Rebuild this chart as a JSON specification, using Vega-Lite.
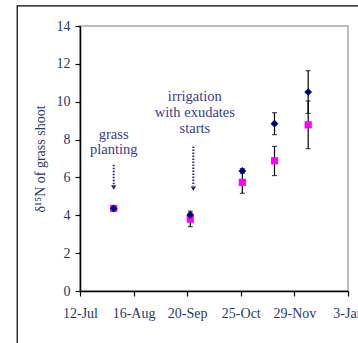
{
  "$schema": "https://vega.github.io/schema/vega-lite/v6.json",
  "width": 268,
  "height": 265,
  "autosize": {"type": "none"},
  "padding": {"left": 80, "top": 26, "right": 10, "bottom": 52},
  "background": "white",
  "config": {
    "view": {"stroke": "#A6A6A6", "strokeWidth": 1.5},
    "axis": {"labelOverlap": false, "grid": false},
    "font": "Liberation Serif"
  },
  "datasets": {
    "obs": [
      {"date": "2008-08-03", "group": "square", "mean": 4.36, "lo": 4.3, "hi": 4.42},
      {"date": "2008-09-22", "group": "square", "mean": 3.8, "lo": 3.4, "hi": 4.22},
      {"date": "2008-10-26", "group": "square", "mean": 5.74, "lo": 5.16, "hi": 6.32},
      {"date": "2008-11-16", "group": "square", "mean": 6.88, "lo": 6.1, "hi": 7.64},
      {"date": "2008-12-08", "group": "square", "mean": 8.78, "lo": 7.52, "hi": 10.04},
      {"date": "2008-08-03", "group": "diamond", "mean": 4.36, "lo": 4.3, "hi": 4.42},
      {"date": "2008-09-22", "group": "diamond", "mean": 4.02, "lo": 3.92, "hi": 4.12},
      {"date": "2008-10-26", "group": "diamond", "mean": 6.34, "lo": 6.22, "hi": 6.46},
      {"date": "2008-11-16", "group": "diamond", "mean": 8.84, "lo": 8.26, "hi": 9.42},
      {"date": "2008-12-08", "group": "diamond", "mean": 10.51, "lo": 9.38, "hi": 11.64}
    ],
    "arrows": [
      {"date": "2008-08-03", "top": 6.67, "bottom": 5.62, "tip": 5.47},
      {"date": "2008-09-24", "top": 7.63, "bottom": 5.55, "tip": 5.4}
    ],
    "notes": [
      {"date": "2008-08-03", "y": 8.01, "text": "grass"},
      {"date": "2008-08-03", "y": 7.22, "text": "planting"},
      {"date": "2008-09-25", "y": 10.06, "text": "irrigation"},
      {"date": "2008-09-25", "y": 9.18, "text": "with exudates"},
      {"date": "2008-09-25", "y": 8.34, "text": "starts"}
    ],
    "frame": [
      {"x0": "2008-06-01", "x1": "2010-06-01", "y0": 15.06, "y1": -100}
    ]
  },
  "encoding": {
    "x": {
      "field": "date",
      "type": "temporal",
      "scale": {
        "type": "utc",
        "nice": false,
        "domain": [
          {"year": 2008, "month": 7, "date": 12, "utc": true},
          {"year": 2009, "month": 1, "date": 3, "utc": true}
        ]
      },
      "axis": {
        "title": null,
        "grid": false,
        "values": [
          {"year": 2008, "month": 7, "date": 12, "utc": true},
          {"year": 2008, "month": 8, "date": 16, "utc": true},
          {"year": 2008, "month": 9, "date": 20, "utc": true},
          {"year": 2008, "month": 10, "date": 25, "utc": true},
          {"year": 2008, "month": 11, "date": 29, "utc": true},
          {"year": 2009, "month": 1, "date": 3, "utc": true}
        ],
        "format": "%-d-%b",
        "domainColor": "black",
        "domainWidth": 1.5,
        "tickColor": "black",
        "tickSize": 5,
        "tickWidth": 1.2,
        "labelFont": "Liberation Serif",
        "labelFontSize": 14,
        "labelColor": "#1F3A6B",
        "labelPadding": 10,
        "labelOverlap": false,
        "labelBound": false,
        "labelFlush": false,
        "labelAngle": 0
      }
    },
    "y": {
      "field": "mean",
      "type": "quantitative",
      "scale": {"domain": [0, 14], "nice": false, "zero": false},
      "axis": {
        "title": "δ¹⁵N of grass shoot",
        "titleFont": "Liberation Serif",
        "titleFontSize": 14,
        "titleFontWeight": "normal",
        "titleColor": "#1F3A6B",
        "titlePadding": 9,
        "values": [0, 2, 4, 6, 8, 10, 12, 14],
        "tickCount": 8,
        "grid": false,
        "domainColor": "black",
        "domainWidth": 1.5,
        "tickColor": "black",
        "tickSize": 5,
        "tickWidth": 1.2,
        "labelFont": "Liberation Serif",
        "labelFontSize": 14,
        "labelColor": "#1F3A6B",
        "labelPadding": 5,
        "labelOverlap": false,
        "labelBound": false,
        "labelFlush": false
      }
    }
  },
  "layer": [
    {
      "data": {"name": "frame"},
      "mark": {"type": "rect", "filled": false, "stroke": "black", "strokeWidth": 1.2, "clip": false},
      "encoding": {
        "x": {"field": "x0", "type": "temporal"},
        "x2": {"field": "x1"},
        "y": {"field": "y0", "type": "quantitative"},
        "y2": {"field": "y1"}
      }
    },
    {
      "mark": {"type": "rule", "color": "#A6A6A6", "strokeWidth": 1.5},
      "data": {"values": [{"edge": "top"}]},
      "encoding": {
        "y": {"datum": 14, "type": "quantitative"}
      }
    },
    {
      "mark": {"type": "rule", "color": "#A6A6A6", "strokeWidth": 1.5},
      "data": {"values": [{"edge": "right"}]},
      "encoding": {
        "x": {"datum": {"year": 2009, "month": 1, "date": 3, "utc": true}, "type": "temporal"}
      }
    },
    {
      "data": {"name": "obs"},
      "mark": {"type": "rule", "color": "black", "strokeWidth": 1.2},
      "encoding": {
        "y": {"field": "lo", "type": "quantitative"},
        "y2": {"field": "hi"}
      }
    },
    {
      "data": {"name": "obs"},
      "mark": {"type": "tick", "orient": "horizontal", "color": "black", "size": 5, "thickness": 1.2},
      "encoding": {"y": {"field": "lo", "type": "quantitative"}}
    },
    {
      "data": {"name": "obs"},
      "mark": {"type": "tick", "orient": "horizontal", "color": "black", "size": 5, "thickness": 1.2},
      "encoding": {"y": {"field": "hi", "type": "quantitative"}}
    },
    {
      "data": {"name": "obs"},
      "transform": [{"filter": "datum.group === 'square'"}],
      "mark": {"type": "point", "shape": "square", "filled": true, "color": "#FF00FF", "opacity": 1, "size": 52}
    },
    {
      "data": {"name": "obs"},
      "transform": [{"filter": "datum.group === 'diamond'"}],
      "mark": {"type": "point", "shape": "diamond", "filled": true, "color": "#000080", "opacity": 1, "size": 60}
    },
    {
      "data": {"name": "arrows"},
      "mark": {"type": "rule", "color": "#26267A", "strokeWidth": 2, "strokeDash": [1.5, 1.5]},
      "encoding": {
        "y": {"field": "top", "type": "quantitative"},
        "y2": {"field": "bottom"}
      }
    },
    {
      "data": {"name": "arrows"},
      "mark": {"type": "point", "shape": "triangle-down", "filled": true, "color": "#26267A", "opacity": 1, "size": 28},
      "encoding": {"y": {"field": "tip", "type": "quantitative"}}
    },
    {
      "data": {"name": "notes"},
      "mark": {"type": "text", "align": "center", "baseline": "alphabetic", "font": "Liberation Serif", "fontSize": 14.5, "color": "#3A3A8C"},
      "encoding": {
        "y": {"field": "y", "type": "quantitative"},
        "text": {"field": "text"}
      }
    }
  ]
}
